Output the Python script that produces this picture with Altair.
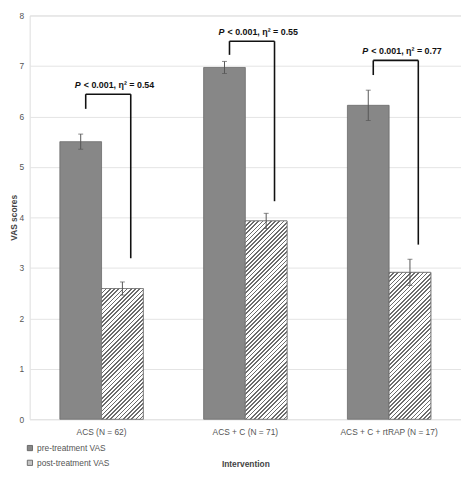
import altair as alt
import pandas as pd

groups = ["ACS (N = 62)", "ACS + C (N = 71)", "ACS + C + rtRAP (N = 17)"]
series = ["pre-treatment VAS", "post-treatment VAS"]
pre_vals = [5.50, 6.97, 6.22]
pre_err = [0.15, 0.12, 0.30]
post_vals = [2.59, 3.93, 2.91]
post_err = [0.13, 0.15, 0.26]
bracket_top = [6.44, 7.49, 7.11]
bracket_left_end = [6.15, 7.22, 6.82]
bracket_right_end = [3.19, 4.32, 3.46]
bracket_text = ["< 0.001, η² = 0.54", "< 0.001, η² = 0.55", "< 0.001, η² = 0.77"]

W, H = 438, 410
YMAX = 8
FONT = "Liberation Sans"

rows = []
for g, v, e in zip(groups, pre_vals, pre_err):
    rows.append({"group": g, "series": series[0], "value": v, "lo": v - e, "hi": v + e})
for g, v, e in zip(groups, post_vals, post_err):
    rows.append({"group": g, "series": series[1], "value": v, "lo": v - e, "hi": v + e})
df = pd.DataFrame(rows)

br = pd.DataFrame({"group": groups, "top": bracket_top, "lend": bracket_left_end,
                   "rend": bracket_right_end, "text": bracket_text, "p": ["P"] * 3})

xscale = alt.Scale(domain=groups, paddingInner=0.42, paddingOuter=0.21)
yscale = alt.Scale(domain=[0, YMAX])
oscale = alt.Scale(domain=series, paddingInner=0, paddingOuter=0)

x_enc = alt.X("group:N", scale=xscale, sort=groups,
              axis=alt.Axis(title="Intervention", labelAngle=0, labelFontSize=8.5,
                            labelColor="#555", labelFont=FONT, labelPadding=9,
                            ticks=False, domain=False, titleFont=FONT, titleFontSize=8.5,
                            titleColor="#444", titleFontWeight="bold", titlePadding=23))
y_enc = alt.Y("value:Q", scale=yscale,
              axis=alt.Axis(title="VAS scores", values=list(range(0, YMAX + 1)),
                            labelFontSize=8.5, labelColor="#555", labelFont=FONT,
                            labelPadding=6, ticks=False, domain=False,
                            gridColor="#e4e4e4", titleFont=FONT, titleFontSize=8.5,
                            titleColor="#444", titleFontWeight="bold",
                            titleX=-16, titleY=H / 2, titleBaseline="middle"))
xo_enc = alt.XOffset("series:N", scale=oscale, sort=series)

base = alt.Chart(df)

bars = base.mark_bar(stroke="#6a6a6a", strokeWidth=0.8).encode(
    x=x_enc, xOffset=xo_enc, y=y_enc,
    color=alt.Color("series:N", sort=series,
                    scale=alt.Scale(domain=series, range=["#878787", "#c4c4c4"]),
                    legend=alt.Legend(title=None, orient="none", legendX=-4, legendY=435,
                                      symbolType="square", symbolSize=28,
                                      symbolStrokeColor="#555", symbolStrokeWidth=0.8,
                                      labelFont=FONT, labelFontSize=8.5, labelColor="#555",
                                      rowPadding=6, labelOffset=3)),
)

# hatched post-treatment bars (diagonal stripes via hard-stop gradients)
sub_w = W / (3 - 0.42 + 0.42) * 0.58 / 2
period = 4.3
hatch_layers = []
for g, v in zip(groups, post_vals):
    h = v * H / YMAX
    w = sub_w
    k = (w + h) / (w * w + h * h)
    n = int((w + h) / period) + 1
    stops = []
    for i in range(n):
        a = i / n
        b = (i + 0.4) / n
        c = (i + 1) / n
        stops += [alt.GradientStop(offset=a, color="#6c6c6c"),
                  alt.GradientStop(offset=b, color="#6c6c6c"),
                  alt.GradientStop(offset=b, color="#ffffff"),
                  alt.GradientStop(offset=c, color="#ffffff")]
    grad = alt.LinearGradient(gradient="linear", stops=stops, x1=0, y1=0, x2=w * k, y2=h * k)
    layer = base.transform_filter(
        (alt.datum.group == g) & (alt.datum.series == series[1])
    ).mark_bar(fill=grad, stroke="#777", strokeWidth=0.8).encode(
        x=alt.X("group:N", scale=xscale, sort=groups), xOffset=xo_enc,
        y=alt.Y("value:Q", scale=yscale))
    hatch_layers.append(layer)

err = base.mark_rule(color="#555", strokeWidth=1).encode(
    x=alt.X("group:N", scale=xscale, sort=groups), xOffset=xo_enc,
    y=alt.Y("lo:Q", scale=yscale), y2="hi:Q")
cap_hi = base.mark_tick(color="#555", size=5, thickness=1).encode(
    x=alt.X("group:N", scale=xscale, sort=groups), xOffset=xo_enc,
    y=alt.Y("hi:Q", scale=yscale))
cap_lo = base.mark_tick(color="#555", size=5, thickness=1).encode(
    x=alt.X("group:N", scale=xscale, sort=groups), xOffset=xo_enc,
    y=alt.Y("lo:Q", scale=yscale))

bbase = alt.Chart(br)
LP, RP, TP = 0.31, 0.85, 0.65
bk = dict(color="#111", strokeWidth=1.6)
left_leg = bbase.mark_rule(**bk).encode(
    x=alt.X("group:N", scale=xscale, sort=groups, bandPosition=LP),
    y=alt.Y("lend:Q", scale=yscale), y2="top:Q")
right_leg = bbase.mark_rule(**bk).encode(
    x=alt.X("group:N", scale=xscale, sort=groups, bandPosition=RP),
    y=alt.Y("rend:Q", scale=yscale), y2="top:Q")
horiz = bbase.mark_rule(**bk).encode(
    x=alt.X("group:N", scale=xscale, sort=groups, bandPosition=LP),
    x2=alt.X2("group:N", bandPosition=RP),
    y=alt.Y("top:Q", scale=yscale))
txt = bbase.mark_text(font=FONT, fontSize=9, fontWeight="bold", color="#111",
                      align="center", baseline="middle", dx=5, dy=-9).encode(
    x=alt.X("group:N", scale=xscale, sort=groups, bandPosition=TP),
    y=alt.Y("top:Q", scale=yscale), text="text:N")
ptxt = bbase.mark_text(font=FONT, fontSize=9, fontWeight="bold", fontStyle="italic",
                       color="#111", align="right", baseline="middle", dx=-34, dy=-9).encode(
    x=alt.X("group:N", scale=xscale, sort=groups, bandPosition=TP),
    y=alt.Y("top:Q", scale=yscale), text="p:N")

chart = alt.layer(bars, *hatch_layers, err, cap_hi, cap_lo, left_leg, right_leg, horiz,
                  txt, ptxt).properties(
    width=W, height=H,
    autosize=alt.AutoSizeParams(type="none"),
    padding={"left": 22, "top": 4, "right": 0, "bottom": 52},
).configure_view(stroke=None).configure(background="white")

chart.save("out.html", embed_options={"renderer": "svg", "actions": False})
